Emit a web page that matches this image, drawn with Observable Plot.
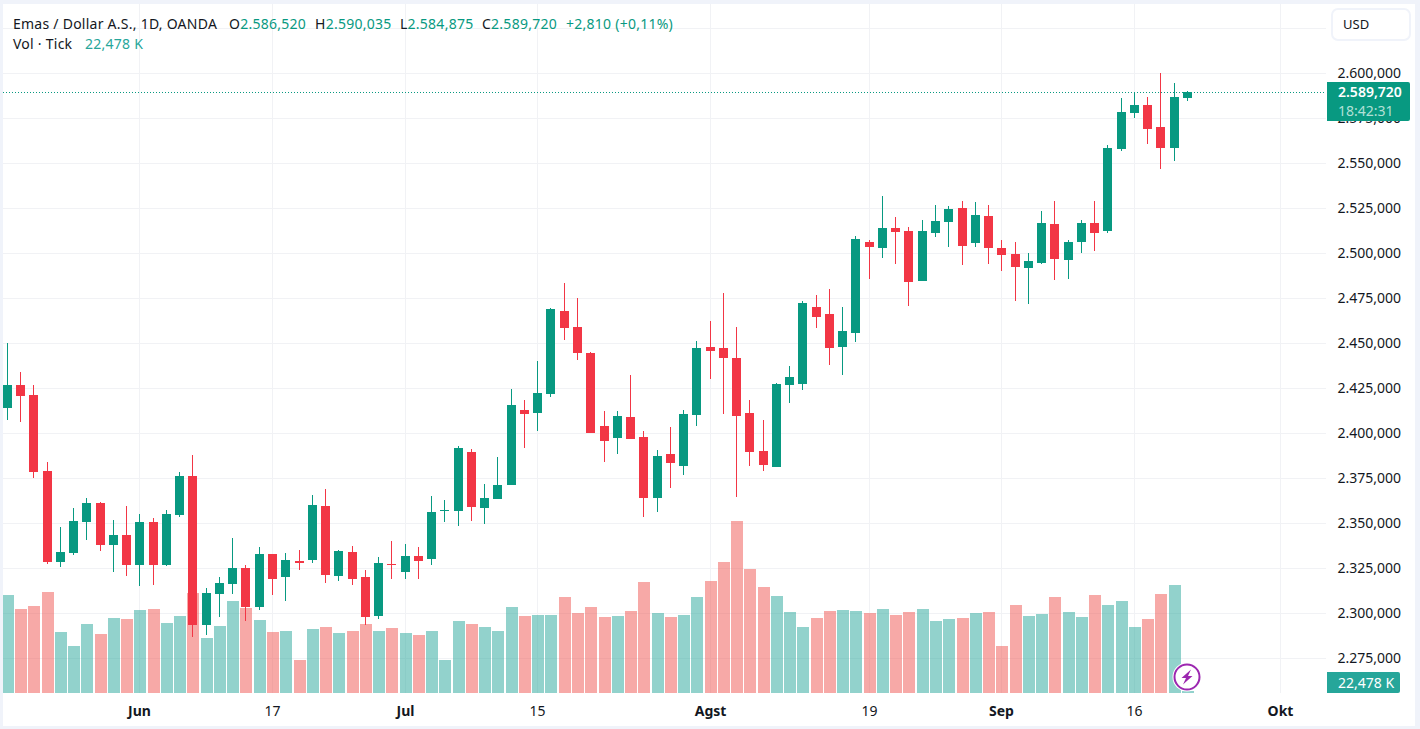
<!DOCTYPE html>
<html lang="id">
<head>
<meta charset="utf-8">
<title>Emas / Dollar A.S., 1D, OANDA</title>
<script src="https://cdn.jsdelivr.net/npm/d3@7"></script>
<script src="https://cdn.jsdelivr.net/npm/@observablehq/plot@0.6"></script>
<style>
  html, body { margin: 0; padding: 0; background: #fff; }
  #wrap { position: relative; width: 1420px; height: 729px; overflow: hidden;
          font-family: "Noto Sans", sans-serif; color: #131722; }
  #wrap svg.main { position: absolute; left: 0; top: 0; }
  .abs { position: absolute; white-space: nowrap; }
  #frame { position: absolute; inset: 0; box-sizing: border-box; pointer-events: none;
           border-style: solid; border-color: #f0f3fa; border-width: 4px 5px 3px 3px; }
  .hdr { font-size: 14px; line-height: 18px; letter-spacing: 0.25px; }
  .g { color: #089981; }
  .t { color: #26a69a; }
  #usd { left: 1331px; top: 8px; width: 80px; height: 33px; box-sizing: border-box;
         border: 2px solid #f0f3fa; border-radius: 7px; background: #fff; font-size: 13px;
         line-height: 29px; padding-left: 10px; }
  #tag { left: 1327px; top: 82px; width: 83px; height: 39px; background: #089981; border-radius: 0 2px 2px 0;
         color: #fff; font-size: 14px; line-height: 19px; text-align: left; }
  #tag div { padding-left: 11px; }
  #vtag { left: 1327px; top: 672px; width: 73px; height: 21px; background: #26a69a; border-radius: 0 2px 2px 0;
          color: #fff; font-size: 14px; line-height: 21px; padding-left: 11px; box-sizing: border-box; }
  #bolt { position: absolute; left: 1171px; top: 661px; }
</style>
</head>
<body>
<div id="wrap"></div>
<script>
const opens = [2414.1,2426.9,2421.3,2379.1,2328.5,2333.5,2350.7,2361.3,2338,2343.5,
  2326.9,2350.7,2326.9,2354.6,2376.3,2293.5,2310.7,2316.3,2325.2,2303.5,
  2333,2320.2,2329,2329.6,2359.6,2320.7,2334.1,2320.2,2298.5,2327.4,
  2323,2331.9,2330.2,2357,2356.9,2389.6,2358.5,2363.5,2371.3,2413,
  2411.3,2421.9,2468,2459.1,2444.6,2404.1,2397.4,2409.1,2398,2364.1,
  2388.5,2381.9,2410.2,2448,2447.4,2441.9,2411.3,2390.2,2381.3,2426.9,
  2427.4,2470.2,2466.3,2448,2455.7,2506.3,2503,2514.1,2512.4,2484.6,
  2511.3,2517.4,2525.2,2505.7,2520.7,2503,2499.6,2491.9,2494.6,2516.3,
  2496.3,2506.3,2516.9,2512.4,2558,2578,2582.4,2570.2,2558.5,2586.52];
const highs = [2450,2434.1,2426.9,2384.1,2348,2358.5,2364.1,2361.9,2351.9,2359.6,
  2355.2,2353,2357.4,2378.5,2388,2314.1,2320.2,2341.9,2326.9,2336.9,
  2333,2333.5,2335.2,2365.7,2369.1,2335.2,2337.4,2324.1,2331.3,2340.2,
  2338.5,2336.9,2365.2,2363,2393,2391.3,2371.9,2386.9,2424.6,2418.5,
  2440.2,2469.6,2483.5,2475.2,2445.2,2412.4,2412.4,2432.4,2401.3,2390.7,
  2403.5,2413,2451.3,2462.4,2478,2459.1,2418.5,2407.4,2428,2437.4,
  2473.5,2476.9,2480.2,2470.2,2509.6,2507.4,2531.9,2520.2,2514.6,2518.5,
  2526.9,2526.3,2529.1,2528.5,2526.9,2507.4,2506.3,2500.2,2523.5,2529.1,
  2507.4,2518.5,2529.1,2560.2,2586.3,2589.6,2586.9,2600.2,2594.6,2590.035];
const lows = [2407.4,2406.3,2375.2,2327.4,2325.7,2332.4,2340.7,2334.6,2323,2320.7,
  2315.2,2315.7,2326.3,2353.5,2286.9,2288,2298,2310.7,2295.7,2301.9,
  2310.2,2306.9,2324,2328,2316.9,2318,2315.7,2293.5,2296.9,2319.1,
  2319.1,2319.1,2326.9,2350.7,2348.5,2351.3,2349.6,2363.5,2371.3,2391.9,
  2401.3,2420.2,2451.9,2440.7,2400.2,2384.1,2388.5,2396.9,2353.5,2356.3,
  2369.6,2376.9,2404.1,2430.2,2410.7,2364.6,2381.9,2379.1,2381.3,2416.9,
  2424.1,2458.5,2438,2432.4,2450.7,2485.7,2497.4,2494.1,2470.7,2484.6,
  2509.1,2503.5,2493.5,2503.5,2494.1,2490.2,2473.5,2471.9,2494.1,2485.2,
  2485.7,2500.2,2501.3,2511.3,2556.9,2575.2,2560.7,2546.9,2551.3,2584.875];
const closes = [2426.9,2420.7,2378.5,2328.5,2334.1,2351.3,2361.3,2338,2343.5,2326.9,
  2350.7,2326.9,2355.2,2376.3,2293.5,2311.3,2316.9,2325.2,2303.5,2333,
  2319.1,2329.6,2328,2360.2,2321.3,2334.6,2319.1,2298,2328,2327,
  2331.9,2329.1,2356.3,2357.4,2391.9,2359.1,2364.1,2371.3,2415.7,2410.7,
  2422.4,2469.1,2458.5,2444.6,2400.2,2395.7,2409.6,2396.9,2364.1,2387.4,
  2383.5,2410.7,2447.4,2445.7,2441.9,2409.6,2389.6,2382.4,2427.4,2431.3,
  2472.4,2464.6,2447.4,2456.9,2508,2503.5,2514.1,2511.9,2484.1,2512.4,
  2518,2524.6,2504.1,2521.3,2503,2499.1,2492.4,2495.7,2516.9,2496.9,
  2506.3,2516.9,2511.3,2558.5,2578.5,2582.4,2569.1,2558.5,2586.9,2589.72];
// Tick volume, thousands
const volumes = [882,756,783,909,549,423,621,531,675,666,
  747,756,630,693,900,495,603,828,765,657,
  549,558,297,576,594,540,558,621,558,585,
  540,522,558,297,648,621,594,558,774,693,
  702,702,864,720,774,684,693,738,999,720,
  684,702,864,1008,1179,1548,1116,954,873,729,
  594,675,738,747,738,720,756,702,729,756,
  648,666,675,720,729,423,792,693,711,864,
  729,684,882,792,828,594,666,891,972,22.478];
const priceTicks = [2600,2575,2550,2525,2500,2475,2450,2425,2400,2375,2350,2325,2300,2275];
const gridPrices = [2625, ...priceTicks];
const monthTicks = [10,30,53,75,96];
const monthLabels = ["Jun","Jul","Agst","Sep","Okt"];
const dayTicks = [20,40,65,85];
const dayLabels = ["17","15","19","16"];

const green = "#089981", red = "#f23645";
const volGreen = "#26a69a", volRed = "#ef5350";
const gridColor = "#f1f2f5";
const volBase = 2255.7, volPerPrice = 16.2; // volume pane sharing the price axis
const idx = d3.range(opens.length);
const isUp = i => closes[i] >= opens[i];
const lastClose = closes[closes.length - 1];
const fmtPrice = v => d3.format(".3f")(v).replace(".", ",").replace(/^(\d)(\d{3})/, "$1.$2");

const plot = Plot.plot({
  width: 1420, height: 729,
  marginTop: 3, marginRight: 94, marginBottom: 36, marginLeft: 0,
  style: {background: "#fff", fontFamily: '"Noto Sans", sans-serif', overflow: "hidden"},
  x: {domain: [0, 96], range: [6.8, 1279.76], round: true},
  y: {domain: [2600, 2275], range: [73.3, 658.3], round: true},
  marks: [
    Plot.ruleY(gridPrices, {stroke: gridColor, strokeWidth: 1}),
    Plot.ruleX([...monthTicks, ...dayTicks], {stroke: gridColor, strokeWidth: 1}),
    Plot.ruleX(idx, {x: i => i, y1: () => volBase, y2: i => volBase + volumes[i] / volPerPrice,
      stroke: i => isUp(i) ? volGreen : volRed, strokeOpacity: 0.5, strokeWidth: 12, dx: 0.5}),
    Plot.ruleY([lastClose], {stroke: green, strokeWidth: 1, strokeDasharray: "1 2"}),
    Plot.ruleX(idx, {x: i => i, y1: i => lows[i], y2: i => highs[i],
      stroke: i => isUp(i) ? green : red, strokeWidth: 1}),
    Plot.ruleX(idx, {x: i => i, y1: i => opens[i], y2: i => closes[i],
      stroke: i => isUp(i) ? green : red, strokeWidth: 9}),
    Plot.axisY({anchor: "right", ticks: priceTicks, tickFormat: fmtPrice, tickSize: 0,
      tickPadding: 11, label: null, fontSize: 14, color: "#131722"}),
    Plot.axisX({anchor: "bottom", ticks: dayTicks, tickFormat: i => dayLabels[dayTicks.indexOf(i)],
      tickSize: 0, tickPadding: 13, label: null, fontSize: 14, color: "#131722"}),
    Plot.axisX({anchor: "bottom", ticks: monthTicks, tickFormat: i => monthLabels[monthTicks.indexOf(i)],
      tickSize: 0, tickPadding: 13, label: null, fontSize: 14, fontWeight: 700, color: "#131722"})
  ]
});
plot.classList.add("main");

const wrap = document.getElementById("wrap");
wrap.appendChild(plot);

const overlay = `
  <div class="abs hdr" style="left:13px;top:15px">Emas / Dollar A.S., 1D, OANDA</div>
  <div class="abs hdr" style="left:229px;top:15px">O<span class="g">2.586,520</span></div>
  <div class="abs hdr" style="left:315px;top:15px">H<span class="g">2.590,035</span></div>
  <div class="abs hdr" style="left:400px;top:15px">L<span class="g">2.584,875</span></div>
  <div class="abs hdr" style="left:482px;top:15px">C<span class="g">2.589,720</span></div>
  <div class="abs hdr g" style="left:566px;top:15px">+2,810 (+0,11%)</div>
  <div class="abs hdr" style="left:13px;top:35px">Vol · Tick</div>
  <div class="abs hdr t" style="left:85px;top:35px">22,478 K</div>
  <div class="abs" id="usd">USD</div>
  <div class="abs" id="tag"><div style="font-weight:600">2.589,720</div><div style="color:#b2e0d6">18:42:31</div></div>
  <div class="abs" id="vtag">22,478 K</div>
  <svg id="bolt" width="32" height="32" viewBox="0 0 32 32">
    <circle cx="16" cy="16" r="14.5" fill="#fff"/>
    <circle cx="16" cy="16" r="12.5" fill="#fff" stroke="#9c27b0" stroke-width="2"/>
    <path d="M20 8.5 L10.5 17 H15 L12 23.5 L21.5 15 H17 Z" fill="#9c27b0"/>
  </svg>
  <div id="frame"></div>`;
wrap.insertAdjacentHTML("beforeend", overlay);
</script>
</body>
</html>
